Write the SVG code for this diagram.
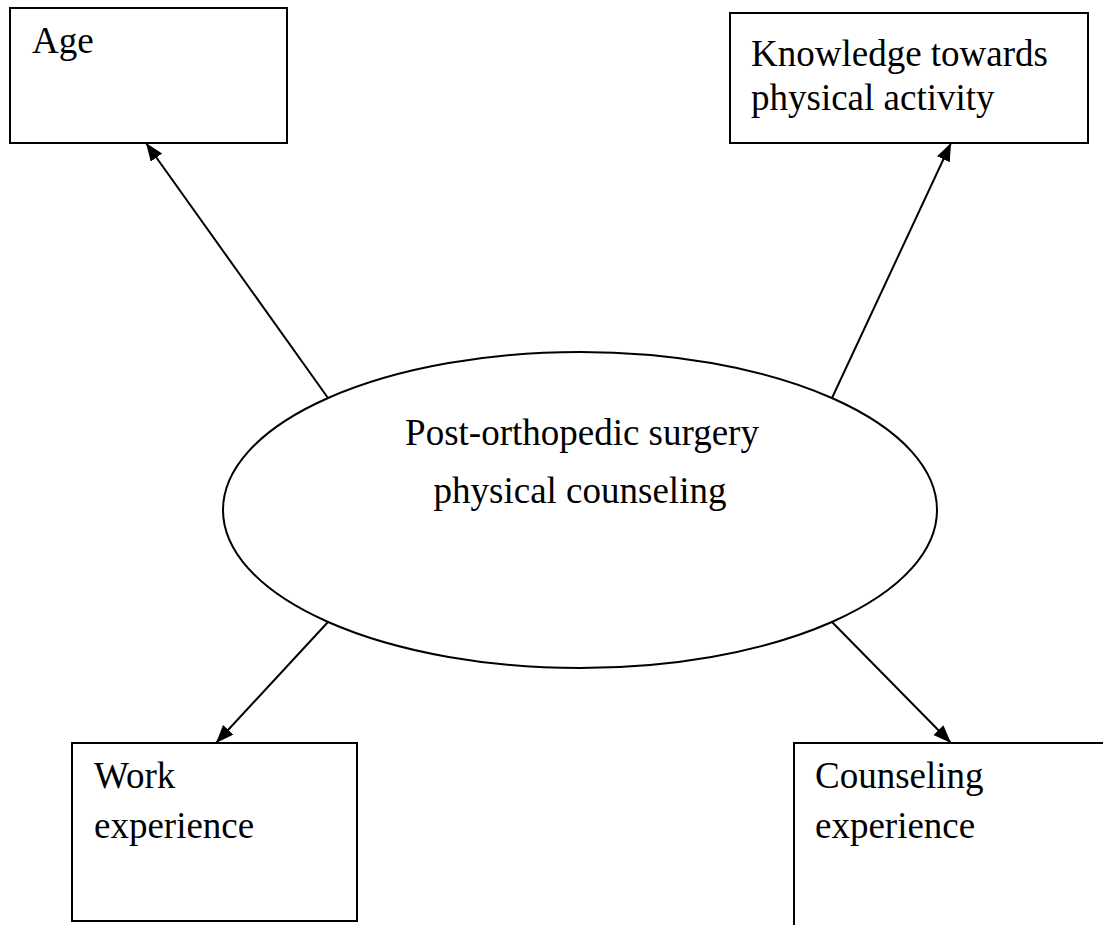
<svg xmlns="http://www.w3.org/2000/svg" width="1103" height="925" viewBox="0 0 1103 925">
<style>
.box{fill:#fff;stroke:#000;stroke-width:2}
.ell{fill:#fff;stroke:#000;stroke-width:2}
.t{font-family:"Liberation Serif","Times New Roman",serif;font-size:37px;fill:#000}
.c{stroke:#000;stroke-width:2;fill:none;marker-end:url(#ah)}
</style>
<defs>
<marker id="ah" markerUnits="userSpaceOnUse" markerWidth="20" markerHeight="16" refX="18" refY="7" orient="auto">
<path d="M0,0 L18,7 L0,14 z" fill="#000"/>
</marker>
</defs>
<rect width="1103" height="925" fill="#fff"/>
<g id="age">
<rect class="box" x="10" y="8" width="277" height="135"/>
<text class="t" x="32" y="53">Age</text>
</g>
<g id="knowledge">
<rect class="box" x="730" y="13" width="358" height="130"/>
<text class="t" x="751" y="66">Knowledge towards</text>
<text class="t" x="751" y="110">physical activity</text>
</g>
<g id="work">
<rect class="box" x="72" y="743" width="285" height="178"/>
<text class="t" x="94" y="788">Work</text>
<text class="t" x="94" y="838">experience</text>
</g>
<g id="counseling">
<rect class="box" x="794" y="743" width="400" height="300"/>
<text class="t" x="815" y="788">Counseling</text>
<text class="t" x="815" y="838">experience</text>
</g>
<g id="center">
<ellipse class="ell" cx="580" cy="510" rx="357" ry="158"/>
<text class="t" x="582" y="445" text-anchor="middle">Post-orthopedic surgery</text>
<text class="t" x="580" y="503" text-anchor="middle">physical counseling</text>
</g>
<g id="connectors">
<line class="c" x1="328" y1="398" x2="146" y2="143"/>
<line class="c" x1="832" y1="398" x2="951" y2="143"/>
<line class="c" x1="328" y1="622" x2="216" y2="743"/>
<line class="c" x1="832" y1="622" x2="951" y2="743"/>
</g>
</svg>
